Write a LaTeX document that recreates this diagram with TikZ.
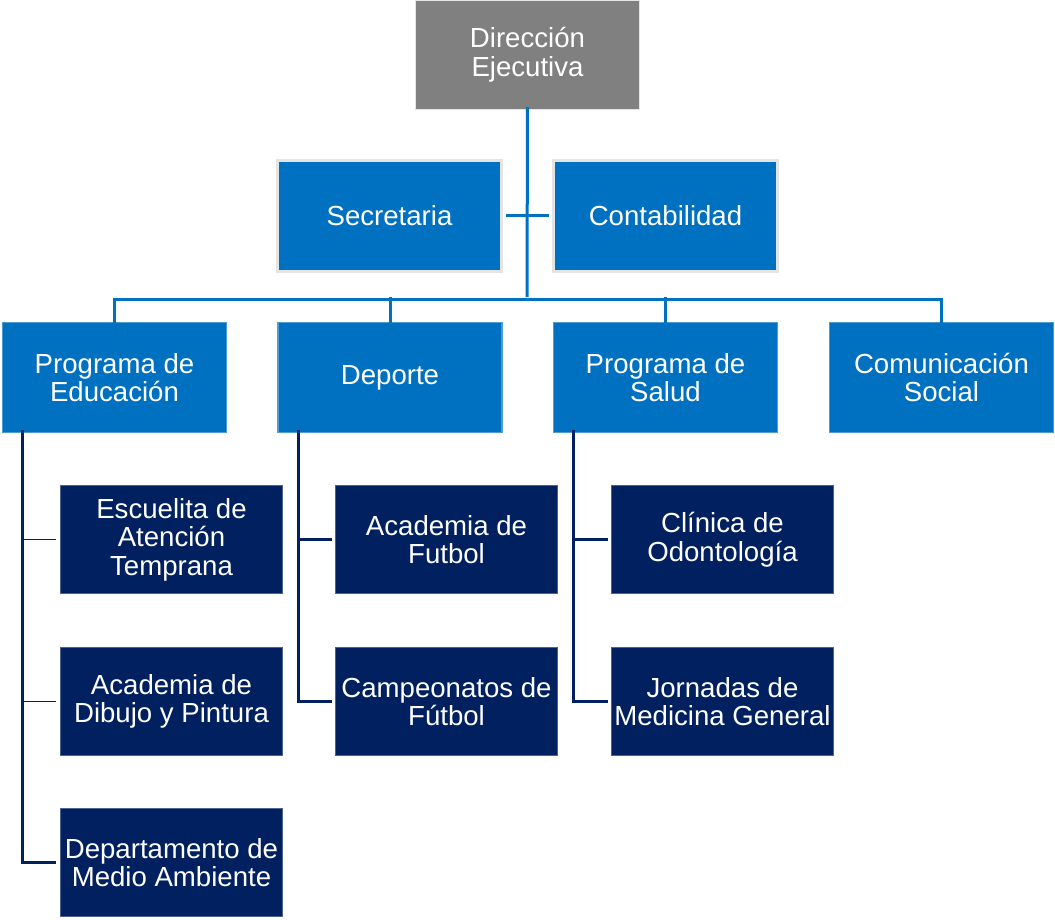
\documentclass[tikz,border=0pt]{standalone}
\usepackage{fontspec}
\setmainfont{Liberation Sans}
\definecolor{topgray}{HTML}{808080}
\definecolor{midblue}{HTML}{0070C0}
\definecolor{navy}{HTML}{002060}
\definecolor{edge}{HTML}{E4E4E4}
\begin{document}
\begin{tikzpicture}[x=1pt,y=-1pt,
  box/.style={rectangle,draw=edge,line width=1.2pt,text=white,align=center,
    font=\fontsize{27.6}{28.6}\selectfont,inner sep=0pt},
  topbox/.style={box,fill=topgray,minimum width=224pt,minimum height=109pt},
  sidebox/.style={box,fill=midblue,draw=edge,line width=2.5pt,minimum width=224pt,minimum height=111pt},
  unitbox/.style={box,fill=midblue,draw=midblue!70!white,minimum width=224pt,minimum height=110pt},
  subbox/.style={box,fill=navy,draw=navy!70!white,minimum width=222pt,minimum height=108pt},
  blueline/.style={draw=midblue,line width=3pt},
  navyline/.style={draw=navy,line width=3pt},
  navythin/.style={draw=navy,line width=1.5pt}]
\useasboundingbox (0,0) rectangle (1055,920);
\fill[white] (0,0) rectangle (1055,920);
% nodes
\node[topbox] (dir) at (527.5,55) {Dirección\\Ejecutiva};
\node[sidebox] (sec) at (389.5,216) {Secretaria};
\node[sidebox] (con) at (665.5,216) {Contabilidad};
\node[unitbox] (edu) at (114.5,377.5) {Programa de\\Educación};
\node[unitbox] (dep) at (390,377.5) {Deporte};
\node[unitbox] (sal) at (665.5,377.5) {Programa de\\Salud};
\node[unitbox] (com) at (941.5,377.5) {Comunicación\\Social};
\node[subbox] (esc) at (171.5,539.5) {Escuelita de\\Atención\\Temprana};
\node[subbox] (adp) at (171.5,701.5) {Academia de\\Dibujo y Pintura};
\node[subbox] (dma) at (171.5,862.5) {Departamento de\\Medio Ambiente};
\node[subbox] (afu) at (446.5,539.5) {Academia de\\Futbol};
\node[subbox] (cfu) at (446.5,701.5) {Campeonatos de\\Fútbol};
\node[subbox] (odo) at (722.5,539.5) {Clínica de\\Odontología};
\node[subbox] (med) at (722.5,701.5) {Jornadas de\\Medicina General};
% top connectors
\coordinate (bus) at (527,297);
\draw[blueline] ([yshift=3]dir.south) -- (bus);
\draw[blueline] ([xshift=3]sec.east) -- ([xshift=-3]con.west);
\draw[blueline] ([yshift=-2]edu.north) -- ([yshift=-2]edu.north |- bus) -| ([yshift=-2]com.north);
\draw[blueline] ([yshift=-2]dep.north) -- (dep.north |- bus);
\draw[blueline] ([yshift=-2]sal.north) -- (sal.north |- bus);
% lower connectors
\coordinate (eL) at ([xshift=21,yshift=3]edu.south west);
\coordinate (dL) at ([xshift=21,yshift=3]dep.south west);
\coordinate (sL) at ([xshift=21,yshift=3]sal.south west);
\draw[navyline] (eL) |- ([xshift=-4]dma.west);
\draw[navythin] (eL |- esc.west) -- ([xshift=-4]esc.west);
\draw[navythin] (eL |- adp.west) -- ([xshift=-4]adp.west);
\draw[navyline] (dL) |- ([xshift=-3]cfu.west);
\draw[navyline] (dL |- afu.west) -- ([xshift=-3]afu.west);
\draw[navyline] (sL) |- ([xshift=-3]med.west);
\draw[navyline] (sL |- odo.west) -- ([xshift=-3]odo.west);
\end{tikzpicture}
\end{document}
